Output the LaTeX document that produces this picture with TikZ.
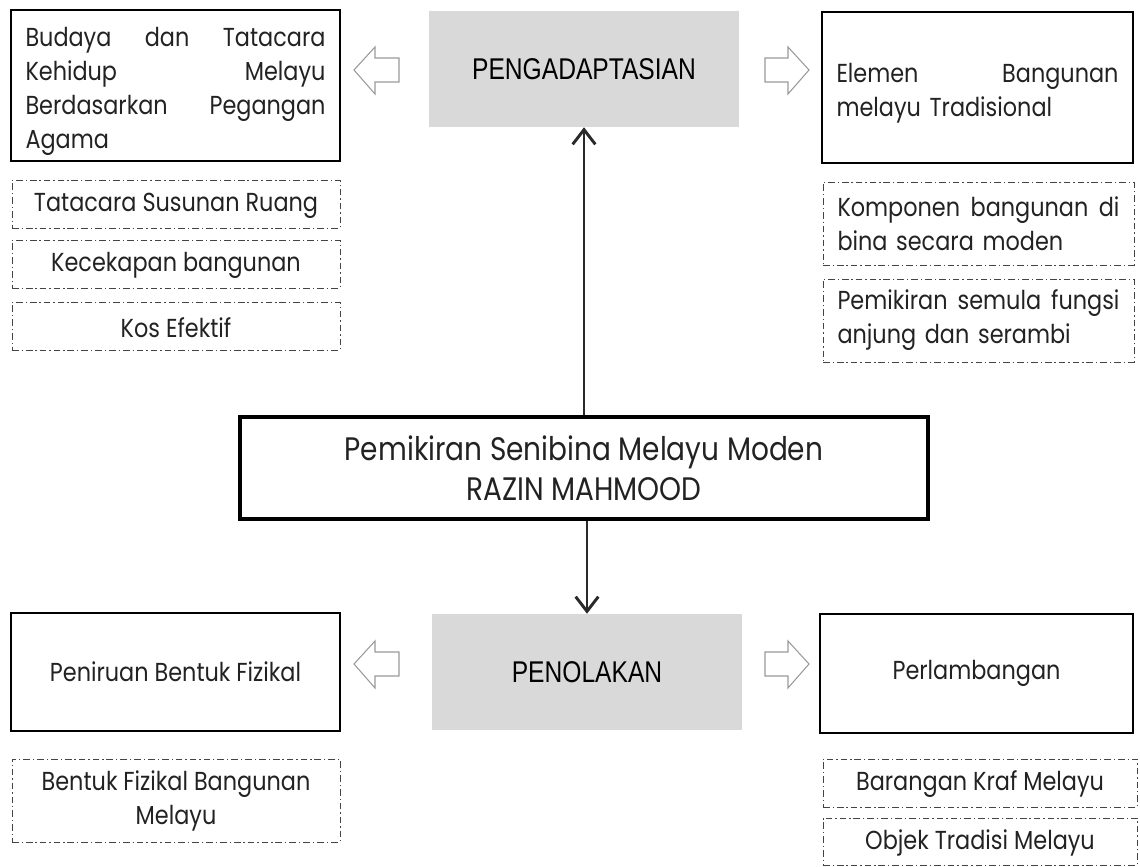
\documentclass[tikz,border=0pt]{standalone}
\usepackage{fontspec}
\setmainfont{Poppins}[FakeStretch=0.86]
\newfontfamily\capfont{Liberation Sans}[FakeStretch=0.82]
\usetikzlibrary{arrows.meta}
\definecolor{txt}{HTML}{222222}
\definecolor{dashc}{HTML}{444444}
\definecolor{grayfill}{HTML}{D9D9D9}
\definecolor{arrowgray}{HTML}{9A9A9A}
\definecolor{linec}{HTML}{2A2A2A}
\begin{document}
\begin{tikzpicture}[x=0.75pt,y=-0.75pt,
  solidbox/.style={draw=black, line width=1.9pt, inner sep=0pt, text=txt, font=\fontsize{19.5}{25.5}\selectfont},
  dashbox/.style={draw=dashc, line width=0.75pt, dash pattern=on 5pt off 2.2pt on 1pt off 2.2pt, inner sep=0pt, text=txt, font=\fontsize{19.5}{25.5}\selectfont},
  graybox/.style={fill=grayfill, inner sep=0pt, text=black, font=\capfont\fontsize{22.5}{26}\selectfont},
  centerbox/.style={draw=black, line width=3.2pt, inner sep=0pt, text=txt, align=center, font=\fontsize{24.4}{30}\selectfont},
  blockarrow/.style={draw=arrowgray, line width=0.8pt, line join=miter},
  link/.style={draw=linec, line width=1.1pt, -{Straight Barb[length=11pt,width=17pt,line width=2.2pt]}}
]
\useasboundingbox (0,0) rectangle (1140,867);

% top row
\node[solidbox, minimum width=246.75pt, minimum height=113.25pt, text width=225pt, align=left] (tl) at (175.5,85.5)
  {\rule{0pt}{23pt}Budaya\hfill dan\hfill Tatacara\\ Kehidup\hfill Melayu\\ Berdasarkan\hfill Pegangan\\ Agama};
\node[graybox, minimum width=232.5pt, minimum height=87pt] (adapt) at (584,69) {PENGADAPTASIAN};
\node[solidbox, minimum width=233.25pt, minimum height=113.25pt, text width=211.5pt, align=left] (tr) at (977.5,87.5)
  {\rule{0pt}{23pt}Elemen\hfill Bangunan\\ melayu Tradisional};

% top-left dashed
\node[dashbox, minimum width=246pt, minimum height=36pt, align=center] (l1) at (176,204) {\rule{0pt}{17pt}Tatacara Susunan Ruang};
\node[dashbox, minimum width=246pt, minimum height=36pt, align=center] (l2) at (176,264) {\rule{0pt}{17pt}Kecekapan bangunan};
\node[dashbox, minimum width=246pt, minimum height=36pt, align=center] (l3) at (176,326) {\rule{0pt}{17pt}Kos Efektif};

% top-right dashed
\node[dashbox, minimum width=233.25pt, minimum height=62.25pt, text width=211.5pt, align=left] (r1) at (978.5,223.5)
  {Komponen\hfill bangunan\hfill di\\ bina secara moden};
\node[dashbox, minimum width=233.25pt, minimum height=62.25pt, text width=211.5pt, align=left] (r2) at (978.5,320.5)
  {Pemikiran\hfill semula\hfill fungsi\\ anjung dan serambi};

% centre
\node[centerbox, minimum width=516pt, minimum height=76.5pt] (c) at (584,468)
  {Pemikiran Senibina Melayu Moden\\ RAZIN MAHMOOD};

% bottom row
\node[solidbox, minimum width=246.75pt, minimum height=88.5pt, align=center] (bl) at (175.5,672) {Peniruan Bentuk Fizikal};
\node[graybox, minimum width=232.5pt, minimum height=87pt] (reject) at (587,672) {PENOLAKAN};
\node[solidbox, minimum width=234.75pt, minimum height=89.25pt, align=center] (br) at (976.5,673.5) {Perlambangan};

\node[dashbox, minimum width=246pt, minimum height=62.25pt, align=center] (bl1) at (176,800.5)
  {Bentuk Fizikal Bangunan\\ Melayu};
\node[dashbox, minimum width=235.5pt, minimum height=36pt, align=center] (br1) at (980,783) {\rule{0pt}{17pt}Barangan Kraf Melayu};
\node[dashbox, minimum width=235.5pt, minimum height=35.25pt, align=center] (br2) at (980,841.5) {\rule{0pt}{17pt}Objek Tradisi Melayu};

% connectors
\draw[link] (c.north -| adapt.south) -- (adapt.south);
\draw[link] (c.south -| reject.north) -- (reject.north);

% block arrows
\draw[blockarrow] (354,70) -- (375,47) -- (375,58) -- (399,58) -- (399,82) -- (375,82) -- (375,94) -- cycle;
\draw[blockarrow] (809,70) -- (788,47) -- (788,58) -- (765,58) -- (765,82) -- (788,82) -- (788,94) -- cycle;
\draw[blockarrow] (354,664) -- (375,641) -- (375,652) -- (399,652) -- (399,676) -- (375,676) -- (375,688) -- cycle;
\draw[blockarrow] (809,664) -- (788,641) -- (788,652) -- (765,652) -- (765,676) -- (788,676) -- (788,688) -- cycle;
\end{tikzpicture}
\end{document}
